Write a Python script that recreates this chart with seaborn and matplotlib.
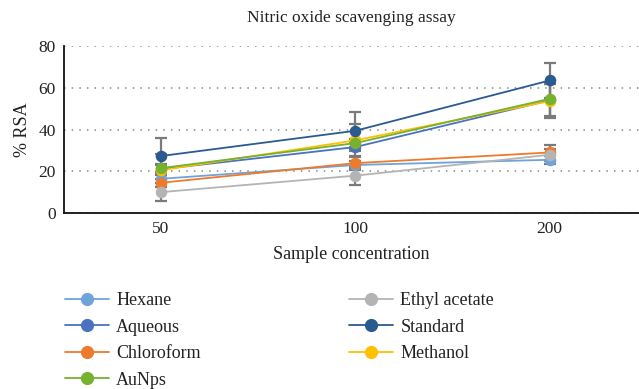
import numpy as np
import pandas as pd
import matplotlib
matplotlib.use("Agg")
import matplotlib.pyplot as plt
import seaborn as sns
from matplotlib.lines import Line2D

concentrations = ["50", "100", "200"]
series = ["Hexane", "Aqueous", "Chloroform", "AuNps", "Ethyl acetate", "Standard", "Methanol"]
hexane = [16.4, 23.0, 25.5]
aqueous = [21.0, 31.6, 54.0]
chloroform = [14.5, 23.9, 29.0]
aunps = [21.5, 33.5, 54.7]
ethyl_acetate = [10.0, 17.9, 27.9]
standard = [27.3, 39.4, 63.5]
methanol = [20.5, 34.8, 53.6]

err_hexane = [2.0, 2.0, 2.0]
err_aqueous = [2.0, 2.0, 8.0]
err_chloroform = [2.0, 3.2, 3.4]
err_aunps = [2.0, 2.0, 8.0]
err_ethyl = [4.3, 4.3, 3.0]
err_standard = [8.6, 8.8, 8.6]
err_methanol = [8.0, 8.0, 8.0]

values = [hexane, aqueous, chloroform, aunps, ethyl_acetate, standard, methanol]
errors = [err_hexane, err_aqueous, err_chloroform, err_aunps, err_ethyl, err_standard, err_methanol]
colors = ["#6fa3d9", "#4a72c0", "#ee7a2c", "#76b12f", "#b4b4b4", "#2b5a90", "#fdc100"]

rows = []
for s, vals in zip(series, values):
    for i, v in enumerate(vals):
        rows.append({"series": s, "pos": i, "value": v})
df = pd.DataFrame(rows)

sns.set_style("white")
plt.rcParams["font.family"] = ["Liberation Serif", "DejaVu Serif"]

fig = plt.figure(figsize=(6.39, 3.89), dpi=100)
ax = fig.add_axes([0.1, 0.4524, 0.9, 0.4293])

for s, vals, errs in zip(series, values, errors):
    ax.errorbar(range(len(vals)), vals, yerr=errs, fmt="none", ecolor="#7a7a7a",
                elinewidth=1.6, capsize=4, capthick=1.6, zorder=2)

draw_order = ["Aqueous", "Hexane", "Chloroform", "Ethyl acetate", "Methanol", "AuNps", "Standard"]
palette = dict(zip(series, colors))
for k, s in enumerate(draw_order):
    sub = df[df.series == s]
    sns.lineplot(data=sub, x="pos", y="value", color=palette[s], marker="o",
                 markersize=8.3, markeredgewidth=0, linewidth=1.3, ax=ax,
                 zorder=3 + k, label=None)

ax.set_xlim(-0.5, 2.46)
ax.set_ylim(0, 80)
ax.set_xticks(range(len(concentrations)))
ax.set_xticklabels(concentrations)
ax.set_yticks([0, 20, 40, 60, 80])
ax.tick_params(axis="both", length=0, labelsize=12.5, colors="#222222", pad=6)
ax.yaxis.grid(True, linestyle=(0, (1, 4)), color="#888888", linewidth=1.1)
ax.set_axisbelow(True)
for sp in ["top", "right"]:
    ax.spines[sp].set_visible(False)
for sp in ["left", "bottom"]:
    ax.spines[sp].set_color("#111111")
    ax.spines[sp].set_linewidth(1.3)

ax.set_xlabel("Sample concentration", fontsize=13, color="#222222", labelpad=6)
ax.set_ylabel("% RSA", fontsize=13, color="#222222", labelpad=5)
ax.set_title("Nitric oxide scavenging assay", fontsize=12.5, color="#222222", pad=17)

handles = [Line2D([0], [0], color=c, marker="o", markersize=9.5, markeredgewidth=0, linewidth=1.3)
           for c in colors]
leg = fig.legend(handles, series, ncol=2, loc="upper left", bbox_to_anchor=(0.09, 0.268),
                 frameon=False, fontsize=13, handlelength=2.45, columnspacing=8.2,
                 labelspacing=0.53, handletextpad=0.4, borderaxespad=0)
for t in leg.get_texts():
    t.set_color("#222222")
if ax.get_legend() is not None:
    ax.get_legend().remove()

fig.savefig("out.png", dpi=100)
